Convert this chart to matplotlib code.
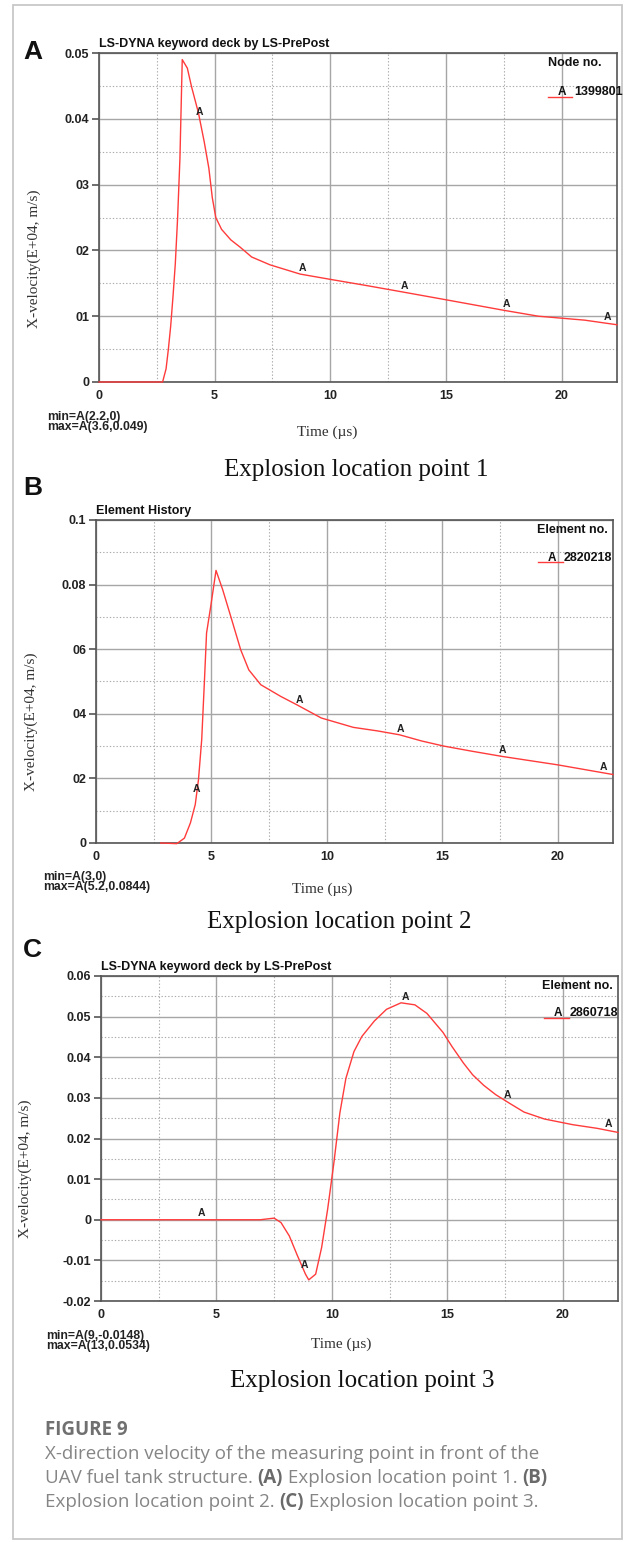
import numpy as np
import matplotlib
matplotlib.use("Agg")
import matplotlib.pyplot as plt
from matplotlib.patches import Rectangle

# ---- data ----
# (A) node 1399801
time_a = [0, 2.2, 2.75, 2.9, 3.0, 3.1, 3.2, 3.3, 3.4, 3.5, 3.6, 3.82, 4.0, 4.3, 4.55,
          4.75, 4.9, 5.05, 5.3, 5.7, 6.1, 6.6, 7.4, 8.7, 10.0, 11.5, 13.1, 15.0,
          17.5, 19.0, 21.0, 22.4]
vel_a = [0, 0, 0, 0.002, 0.005, 0.0085, 0.013, 0.018, 0.025, 0.034, 0.049, 0.0477,
         0.0449, 0.0409, 0.0365, 0.0325, 0.028, 0.025, 0.0232, 0.0216, 0.0205,
         0.019, 0.0178, 0.0164, 0.0156, 0.0147, 0.0137, 0.0125, 0.0109, 0.0100,
         0.0094, 0.0087]

# (B) element 2820218
time_b = [2.8, 3.5, 3.83, 4.09, 4.3, 4.44, 4.58, 4.7, 4.79, 4.97, 5.2, 5.49, 5.84,
          6.27, 6.62, 7.14, 8.0, 8.7, 9.76, 11.15, 12.2, 13.15, 14.1, 15.07, 16.3,
          17.6, 20.0, 22.4]
vel_b = [0, -0.0002, 0.0015, 0.0062, 0.0119, 0.0196, 0.032, 0.0505, 0.065, 0.0732,
         0.0844, 0.0784, 0.0701, 0.0598, 0.0536, 0.049, 0.0454, 0.0428, 0.0387,
         0.0358, 0.0347, 0.0335, 0.0316, 0.0300, 0.0284, 0.0268, 0.0242, 0.0212]

# (C) element 2860718
time_c = [0, 6.9, 7.5, 7.8, 8.16, 8.5, 8.86, 9.0, 9.3, 9.56, 9.82, 10.09, 10.35,
          10.61, 10.96, 11.3, 11.84, 12.37, 13.0, 13.6, 14.12, 14.82, 15.2, 15.7,
          16.1, 16.58, 17.1, 17.72, 18.33, 19.21, 20.44, 21.5, 22.4]
vel_c = [0, 0, 0.0004, -0.0007, -0.004, -0.0087, -0.0134, -0.0148, -0.0134, -0.0068,
         0.0026, 0.014, 0.0263, 0.0348, 0.0414, 0.0451, 0.0489, 0.0518, 0.0534,
         0.0529, 0.0508, 0.0461, 0.0427, 0.0386, 0.0357, 0.0331, 0.0308, 0.0286,
         0.0265, 0.0248, 0.0234, 0.0225, 0.0215]

mark_times = [4.35, 8.8, 13.2, 17.6, 22.0]
x_ticks = [0, 5, 10, 15, 20]

yticks_a = [0, 0.01, 0.02, 0.03, 0.04, 0.05]
ylabels_a = ["0", "01", "02", "03", "0.04", "0.05"]
yticks_b = [0, 0.02, 0.04, 0.06, 0.08, 0.1]
ylabels_b = ["0", "02", "04", "06", "0.08", "0.1"]
yticks_c = [-0.02, -0.01, 0, 0.01, 0.02, 0.03, 0.04, 0.05, 0.06]
ylabels_c = ["-0.02", "-0.01", "0", "0.01", "0.02", "0.03", "0.04", "0.05", "0.06"]

W, H = 625, 1542
fig = plt.figure(figsize=(W / 100, H / 100), dpi=100)


def fx(x):
    return x / W


def fy(y):
    return 1 - y / H


sans = "Liberation Sans"
serif = "Liberation Serif"
red = "#ff3b3b"

panels = [
    dict(letter="A", box=(99, 617, 53, 382), t=time_a, v=vel_a, ylim=(0, 0.05),
         yt=yticks_a, yl=ylabels_a, minor=0.005, title="LS-DYNA keyword deck by LS-PrePost",
         head="Node no.", ident="1399801", mn="min=A(2.2,0)", mx="max=A(3.6,0.049)",
         cap="Explosion location point 1",
         letter_xy=(23, 52), ylab=(34, 259), mm=(47, 417), timexy=(327, 432), capxy=(356, 470),
         headxy=(601, 63), legline=(548, 572, 97), identxy=(574, 92)),
    dict(letter="B", box=(96, 613, 520, 843), t=time_b, v=vel_b, ylim=(0, 0.1),
         yt=yticks_b, yl=ylabels_b, minor=0.01, title="Element History",
         head="Element no.", ident="2820218", mn="min=A(3,0)", mx="max=A(5.2,0.0844)",
         cap="Explosion location point 2",
         letter_xy=(23, 488), ylab=(31, 722), mm=(43, 877), timexy=(322, 889), capxy=(339, 922),
         headxy=(608, 530), legline=(538, 563, 562), identxy=(564, 558)),
    dict(letter="C", box=(101, 618, 976, 1301), t=time_c, v=vel_c, ylim=(-0.02, 0.06),
         yt=yticks_c, yl=ylabels_c, minor=0.005, title="LS-DYNA keyword deck by LS-PrePost",
         head="Element no.", ident="2860718", mn="min=A(9,-0.0148)", mx="max=A(13,0.0534)",
         cap="Explosion location point 3",
         letter_xy=(23, 950), ylab=(25, 1169), mm=(46, 1336), timexy=(341, 1344), capxy=(362, 1381),
         headxy=(613, 986), legline=(544, 569, 1018), identxy=(570, 1013)),
]

for p in panels:
    l, r, t, b = p["box"]
    ax = fig.add_axes([fx(l), fy(b), (r - l) / W, (b - t) / H])
    ax.plot(p["t"], p["v"], color=red, lw=1.0, zorder=4, clip_on=False)
    for tm in mark_times:
        vm = np.interp(tm, p["t"], p["v"])
        ax.annotate("A", (tm, vm), xytext=(0, 1), textcoords="offset points",
                    ha="center", va="bottom", fontsize=7.5, fontweight="bold",
                    family=sans, color="#222222", zorder=5)
    ax.set_xlim(0, 22.4)
    ax.set_ylim(*p["ylim"])
    ax.set_xticks(x_ticks)
    ax.set_xticks(np.arange(2.5, 22.4, 5), minor=True)
    ax.set_yticks(p["yt"])
    ax.set_yticklabels(p["yl"])
    ax.set_yticks(np.arange(p["ylim"][0] + p["minor"], p["ylim"][1], 2 * p["minor"]), minor=True)
    ax.grid(which="major", color="#a6a6a6", lw=1.0, ls="-")
    ax.grid(which="minor", color="#aaaaaa", lw=0.8, ls=(0, (1.2, 1.8)))
    ax.tick_params(axis="x", which="both", length=0, pad=6)
    ax.tick_params(axis="y", which="major", length=5, width=1.2, color="#555555", pad=2)
    ax.tick_params(axis="y", which="minor", length=0)
    for lab in ax.get_xticklabels() + ax.get_yticklabels():
        lab.set_fontfamily(sans)
        lab.set_fontweight("bold")
        lab.set_fontsize(9)
        lab.set_color("#222222")
    for s in ax.spines.values():
        s.set_color("#555555")
        s.set_linewidth(1.2)

    fig.text(fx(l), fy(p["box"][2] - 9), p["title"], ha="left", va="center",
             fontsize=9, fontweight="bold", family=sans, color="#111111")
    fig.text(fx(p["letter_xy"][0]), fy(p["letter_xy"][1]), p["letter"], ha="left", va="center",
             fontsize=19, fontweight="bold", family=sans, color="#111111")
    fig.text(fx(p["ylab"][0]), fy(p["ylab"][1]), "X-velocity(E+04, m/s)", rotation=90,
             ha="center", va="center", fontsize=11, family=serif, color="#333333")
    fig.text(fx(p["mm"][0]), fy(p["mm"][1]), p["mn"], ha="left", va="center",
             fontsize=8.8, fontweight="bold", family=sans, color="#222222")
    fig.text(fx(p["mm"][0]), fy(p["mm"][1] + 10), p["mx"], ha="left", va="center",
             fontsize=8.8, fontweight="bold", family=sans, color="#222222")
    fig.text(fx(p["timexy"][0]), fy(p["timexy"][1]), "Time (\u00b5s)", ha="center", va="center",
             fontsize=11, family=serif, color="#333333")
    fig.text(fx(p["capxy"][0]), fy(p["capxy"][1]), p["cap"], ha="center", va="center",
             fontsize=18, family=serif, color="#111111")
    fig.text(fx(p["headxy"][0]), fy(p["headxy"][1]), p["head"], ha="right", va="center",
             fontsize=9, fontweight="bold", family=sans, color="#111111")
    x0, x1, yl = p["legline"]
    fig.add_artist(plt.Line2D([fx(x0), fx(x1)], [fy(yl), fy(yl)], color=red, lw=1.0))
    fig.text(fx(p["identxy"][0] - 12), fy(p["identxy"][1]), "A", ha="center", va="center",
             fontsize=8.5, fontweight="bold", family=sans, color="#111111")
    fig.text(fx(p["identxy"][0]), fy(p["identxy"][1]), p["ident"], ha="left", va="center",
             fontsize=9, fontweight="bold", family=sans, color="#111111")

# outer frame
fig.add_artist(Rectangle((fx(13), fy(1539)), (622 - 13) / W, (1539 - 5) / H,
                         transform=fig.transFigure, fill=False, ec="#c8c8c8", lw=1.3))

# caption
fig.text(fx(45), fy(1430), "FIGURE 9", ha="left", va="center", fontsize=13.5,
         fontweight="bold", family="Open Sans", color="#707070")

caption_lines = [
    [("X-direction velocity of the measuring point in front of the", False)],
    [("UAV fuel tank structure. ", False), ("(A)", True),
     (" Explosion location point 1. ", False), ("(B)", True)],
    [("Explosion location point 2. ", False), ("(C)", True),
     (" Explosion location point 3.", False)],
]
renderer = fig.canvas.get_renderer()
for i, parts in enumerate(caption_lines):
    x = fx(45)
    y = fy(1454 + 24 * i)
    for txt, bold in parts:
        tt = fig.text(x, y, txt, ha="left", va="center", fontsize=13.5, family="Open Sans",
                      fontweight="bold" if bold else "normal",
                      color="#6a6a6a" if bold else "#858585")
        bb = tt.get_window_extent(renderer)
        x += bb.width / fig.bbox.width

fig.savefig("out.png", dpi=100)
